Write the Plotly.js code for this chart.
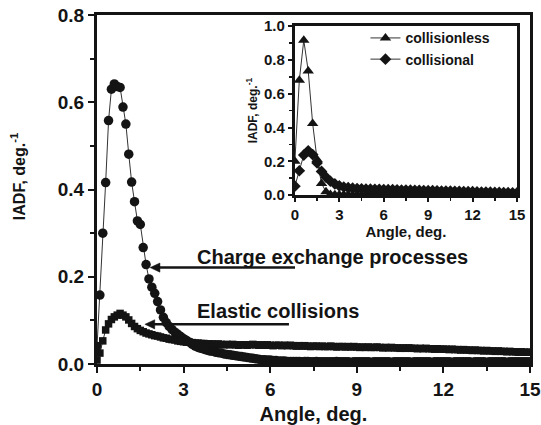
<!DOCTYPE html>
<html>
<head>
<meta charset="utf-8">
<script src="https://cdn.plot.ly/plotly-3.0.1.min.js"></script>
<style>html,body{margin:0;padding:0;background:#fff;}#chart{width:541px;height:425px;}</style>
</head>
<body>
<div id="chart"></div>
<script>
// Main panel: angle grid (deg.)
var angleMain = [0.0,0.1,0.2,0.3,0.4,0.5,0.6,0.7,0.8,0.9,1.0,1.1,1.2,1.3,1.4,1.5,1.6,1.7,1.8,1.9,
  2.0,2.1,2.2,2.3,2.4,2.5,2.6,2.7,2.8,2.9,3.0,3.1,3.2,3.3,3.4,3.5,3.6,3.7,3.8,3.9,
  4.0,4.1,4.2,4.3,4.4,4.5,4.6,4.7,4.8,4.9,5.0,5.1,5.2,5.3,5.4,5.5,5.6,5.7,5.8,5.9,
  6.0,6.1,6.2,6.3,6.4,6.5,6.6,6.7,6.8,6.9,7.0,7.1,7.2,7.3,7.4,7.5,7.6,7.7,7.8,7.9,
  8.0,8.1,8.2,8.3,8.4,8.5,8.6,8.7,8.8,8.9,9.0,9.1,9.2,9.3,9.4,9.5,9.6,9.7,9.8,9.9,
  10.0,10.1,10.2,10.3,10.4,10.5,10.6,10.7,10.8,10.9,11.0,11.1,11.2,11.3,11.4,11.5,11.6,11.7,11.8,11.9,
  12.0,12.1,12.2,12.3,12.4,12.5,12.6,12.7,12.8,12.9,13.0,13.1,13.2,13.3,13.4,13.5,13.6,13.7,13.8,13.9,
  14.0,14.1,14.2,14.3,14.4,14.5,14.6,14.7,14.8,14.9,15.0];

// Charge exchange processes (circles)
var chargeExchange = [0.040,0.158,0.300,0.416,0.558,0.630,0.642,0.636,0.634,0.589,0.550,0.481,0.417,0.372,0.328,0.320,0.267,0.228,0.195,0.176,
  0.162,0.143,0.124,0.107,0.095,0.086,0.079,0.073,0.068,0.063,0.058,0.054,0.050,0.045,0.041,0.038,0.036,0.034,0.032,0.030,
  0.029,0.027,0.026,0.025,0.023,0.022,0.021,0.020,0.019,0.018,0.017,0.016,0.015,0.014,0.013,0.012,0.011,0.010,0.010,0.009,
  0.009,0.008,0.008,0.007,0.007,0.007,0.006,0.006,0.006,0.006,0.006,0.005,0.006,0.006,0.005,0.005,0.006,0.005,0.005,0.005,
  0.005,0.005,0.005,0.006,0.005,0.005,0.005,0.005,0.004,0.005,0.005,0.005,0.005,0.005,0.005,0.004,0.005,0.005,0.005,0.005,
  0.005,0.005,0.004,0.005,0.005,0.005,0.005,0.005,0.005,0.004,0.005,0.005,0.005,0.005,0.005,0.005,0.004,0.005,0.005,0.005,
  0.005,0.005,0.005,0.004,0.005,0.005,0.005,0.005,0.005,0.005,0.004,0.005,0.005,0.005,0.005,0.004,0.005,0.005,0.005,0.005,
  0.005,0.005,0.004,0.005,0.005,0.005,0.005,0.005,0.005,0.005,0.005];

// Elastic collisions (squares)
var elastic = [0.009,0.025,0.053,0.078,0.092,0.102,0.108,0.112,0.116,0.112,0.108,0.101,0.093,0.086,0.081,0.077,0.074,0.071,0.069,0.067,
  0.065,0.064,0.062,0.060,0.059,0.057,0.056,0.055,0.053,0.052,0.051,0.050,0.050,0.049,0.048,0.048,0.047,0.047,0.046,0.046,
  0.046,0.045,0.046,0.045,0.044,0.045,0.044,0.045,0.044,0.043,0.044,0.044,0.043,0.044,0.045,0.044,0.043,0.044,0.043,0.044,
  0.043,0.042,0.043,0.043,0.042,0.043,0.042,0.043,0.042,0.041,0.042,0.041,0.042,0.041,0.040,0.041,0.041,0.040,0.041,0.040,
  0.040,0.041,0.040,0.039,0.040,0.040,0.039,0.040,0.039,0.040,0.039,0.038,0.039,0.038,0.039,0.038,0.038,0.039,0.038,0.037,
  0.038,0.037,0.038,0.037,0.037,0.036,0.037,0.036,0.037,0.036,0.036,0.035,0.036,0.035,0.036,0.035,0.035,0.034,0.035,0.034,
  0.034,0.034,0.033,0.034,0.033,0.033,0.032,0.033,0.032,0.032,0.031,0.032,0.031,0.031,0.030,0.031,0.030,0.030,0.029,0.030,
  0.029,0.029,0.028,0.029,0.028,0.028,0.027,0.028,0.027,0.027,0.027];

// Inset: angle grid (deg.)
var angleInset = [0.0,0.3,0.6,0.9,1.2,1.5,1.8,2.1,2.4,2.7,3.0,3.3,3.6,3.9,4.2,4.5,4.8,5.1,5.4,5.7,
  6.0,6.3,6.6,6.9,7.2,7.5,7.8,8.1,8.4,8.7,9.0,9.3,9.6,9.9,10.2,10.5,10.8,11.1,11.4,11.7,
  12.0,12.3,12.6,12.9,13.2,13.5,13.8,14.1,14.4,14.7,15.0];
var collisionless = [0.20,0.68,0.917,0.735,0.424,0.21,0.069,0.020,0.004,0.002,0.002,0.002,0.002,0.002,0.002,0.002,0.002,0.002,0.002,0.002,
  0.002,0.002,0.002,0.002,0.002,0.002,0.002,0.002,0.002,0.002,0.002,0.002,0.002,0.002,0.002,0.002,0.002,0.002,0.002,0.002,
  0.002,0.002,0.002,0.002,0.002,0.002,0.002,0.002,0.002,0.002,0.002];
var collisional = [0.053,0.144,0.237,0.262,0.240,0.190,0.140,0.106,0.082,0.066,0.055,0.048,0.044,0.041,0.039,0.037,0.036,0.035,0.034,0.034,
  0.033,0.032,0.032,0.031,0.030,0.030,0.029,0.028,0.028,0.027,0.026,0.026,0.025,0.024,0.024,0.023,0.022,0.022,0.021,0.020,
  0.020,0.019,0.018,0.018,0.017,0.016,0.016,0.015,0.014,0.013,0.013];

// Text labels
var labelCharge = 'Charge exchange processes';
var labelElastic = 'Elastic collisions';
var xTitle = 'Angle, deg.';
var yTitle = 'IADF, deg.<sup>-1</sup>';

// Pointer arrows (head angle/value, tail angle)
var arrowCharge = {head: [1.84, 0.221], tail: 6.86};
var arrowElastic = {head: [1.66, 0.091], tail: 6.65};

var F = 'Liberation Sans, Arial, sans-serif';
var ink = '#141414';

var traces = [
  {x: angleMain, y: chargeExchange, type: 'scatter', mode: 'lines+markers', showlegend: false,
   line: {color: '#333', width: 1}, marker: {symbol: 'circle', size: 9.5, color: ink}},
  {x: angleMain, y: elastic, type: 'scatter', mode: 'lines+markers', showlegend: false,
   line: {color: '#333', width: 1}, marker: {symbol: 'square', size: 7.5, color: ink}},
  {x: angleInset, y: collisionless, type: 'scatter', mode: 'lines+markers', name: 'collisionless',
   xaxis: 'x2', yaxis: 'y2', line: {color: '#333', width: 1}, marker: {symbol: 'triangle-up', size: 10, color: ink}},
  {x: angleInset, y: collisional, type: 'scatter', mode: 'lines+markers', name: 'collisional',
   xaxis: 'x2', yaxis: 'y2', line: {color: '#333', width: 1}, marker: {symbol: 'diamond', size: 9, color: ink}}
];

function arrowShapes(a) {
  var hx = a.head[0], hy = a.head[1];
  var headLen = 0.34, headHalf = 0.0105;
  return [
    {type: 'line', xref: 'x', yref: 'y', x0: hx + headLen * 0.8, y0: hy, x1: a.tail, y1: hy,
     line: {color: ink, width: 2.5}},
    {type: 'path', xref: 'x', yref: 'y',
     path: 'M ' + hx + ' ' + hy + ' L ' + (hx + headLen) + ' ' + (hy + headHalf) + ' L ' + (hx + headLen) + ' ' + (hy - headHalf) + ' Z',
     fillcolor: ink, line: {color: ink, width: 0.5}}
  ];
}

var axBase = {showgrid: false, zeroline: false, showline: true, linecolor: ink, mirror: true,
  ticks: 'outside', tickcolor: ink, tickwidth: 2};

var layout = {
  width: 541, height: 425,
  margin: {l: 97, r: 11, t: 15, b: 61},
  paper_bgcolor: '#fff', plot_bgcolor: '#fff',
  font: {family: F, color: ink},
  showlegend: true,
  legend: {x: 0.62, y: 0.979, xanchor: 'left', yanchor: 'top', bgcolor: 'rgba(0,0,0,0)',
    font: {family: F, size: 14, weight: 'bold', color: ink}, itemwidth: 30, tracegroupgap: 0},
  xaxis: Object.assign({}, axBase, {range: [0, 15], dtick: 3, tick0: 0, linewidth: 3, ticklen: 6,
    tickfont: {family: F, size: 19, weight: 'bold'},
    minor: {dtick: 1.5, ticklen: 4, tickwidth: 2, ticks: 'outside', tickcolor: ink},
    title: {text: xTitle, font: {family: F, size: 20, weight: 'bold'}, standoff: 10}}),
  yaxis: Object.assign({}, axBase, {range: [0, 0.8], dtick: 0.2, tick0: 0, tickformat: '.1f', linewidth: 3, ticklen: 6,
    tickfont: {family: F, size: 19, weight: 'bold'},
    minor: {dtick: 0.1, ticklen: 4, tickwidth: 2, ticks: 'outside', tickcolor: ink}}),
  xaxis2: Object.assign({}, axBase, {domain: [0.457, 0.970], anchor: 'y2', range: [0, 15], dtick: 3, tick0: 0,
    linewidth: 3, ticklen: 4, tickfont: {family: F, size: 15, weight: 'bold'},
    minor: {dtick: 1.5, ticklen: 3, tickwidth: 1.5, ticks: 'outside', tickcolor: ink},
    title: {text: xTitle, font: {family: F, size: 15, weight: 'bold'}, standoff: 1}}),
  yaxis2: Object.assign({}, axBase, {domain: [0.484, 0.968], anchor: 'x2', range: [0, 1.0], dtick: 0.2, tick0: 0,
    tickformat: '.1f', linewidth: 3, ticklen: 4, tickfont: {family: F, size: 15, weight: 'bold'},
    minor: {dtick: 0.1, ticklen: 3, tickwidth: 1.5, ticks: 'outside', tickcolor: ink},
    title: {text: yTitle, font: {family: F, size: 12, weight: 'bold'}, standoff: 4}}),
  shapes: arrowShapes(arrowCharge).concat(arrowShapes(arrowElastic)),
  annotations: [
    {x: -0.182, y: 0.536, xref: 'paper', yref: 'paper', xanchor: 'center', yanchor: 'middle', textangle: -90,
     showarrow: false, text: yTitle, font: {family: F, size: 16, weight: 'bold', color: ink}},
    {x: 3.39, y: 0.246, xref: 'x', yref: 'y', xanchor: 'left', yanchor: 'middle', showarrow: false,
     text: labelCharge, font: {family: F, size: 20, weight: 'bold', color: ink}},
    {x: 3.39, y: 0.121, xref: 'x', yref: 'y', xanchor: 'left', yanchor: 'middle', showarrow: false,
     text: labelElastic, font: {family: F, size: 20, weight: 'bold', color: ink}}
  ]
};

Plotly.newPlot('chart', traces, layout, {displayModeBar: false, staticPlot: true});
</script>
</body>
</html>
